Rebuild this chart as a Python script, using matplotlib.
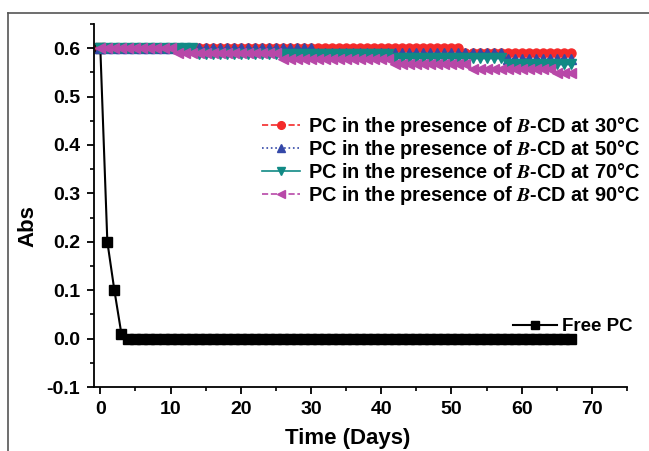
import numpy as np
import matplotlib
matplotlib.use("Agg")
import matplotlib.pyplot as plt
from matplotlib.lines import Line2D
from matplotlib.ticker import MultipleLocator

plt.rcParams['font.family'] = ['Liberation Sans', 'DejaVu Sans']
plt.rcParams['font.weight'] = 'bold'
plt.rcParams['mathtext.fontset'] = 'stix'

# ---- data ----
days = list(range(0, 68))

free_days = [0, 1, 2, 3] + list(range(4, 68))
free_abs = [0.6, 0.2, 0.1, 0.01] + [0.0] * 64

abs_30 = [0.600] * 52 + [0.590] * 16                       # days 0-51, 52-67
abs_50 = [0.600] * 31 + [0.590] * 27 + [0.578] * 10         # 0-30, 31-57, 58-67
abs_70 = [0.600] * 14 + [0.588] * 28 + [0.580] * 16 + [0.568] * 10  # 0-13, 14-41, 42-57, 58-67
abs_90 = [0.600] * 11 + [0.590] * 15 + [0.578] * 16 + [0.568] * 11 + [0.558] * 12 + [0.548] * 3

labels = ["PC in the presence of $B$-CD at 30°C",
          "PC in the presence of $B$-CD at 50°C",
          "PC in the presence of $B$-CD at 70°C",
          "PC in the presence of $B$-CD at 90°C"]
free_label = "Free PC"

x_ticks = [0, 10, 20, 30, 40, 50, 60, 70]
y_ticks = [-0.1, 0.0, 0.1, 0.2, 0.3, 0.4, 0.5, 0.6]

# ---- figure ----
fig = plt.figure(figsize=(6.49, 4.51), dpi=100)
ax = fig.add_axes([94 / 649, 1 - 387 / 451, (627 - 94) / 649, (387 - 24) / 451])

# figure frame (top and left border)
fig.add_artist(Line2D([8 / 649, 8 / 649], [0, 1 - 13 / 451], transform=fig.transFigure,
                      color='#555555', lw=1.2))
fig.add_artist(Line2D([8 / 649, 1], [1 - 13 / 451, 1 - 13 / 451], transform=fig.transFigure,
                      color='#555555', lw=1.2))

free_line, = ax.plot(free_days, free_abs, color='black', lw=1.5, marker='s', ms=6.5,
                     label=free_label, zorder=2)

styles = [
    dict(color='#f42a2a', ls='--', marker='o'),
    dict(color='#3448a8', ls=':', marker='^'),
    dict(color='#118a85', ls='-', marker='v'),
    dict(color='#b848a8', ls='--', marker='<'),
]
series = [abs_30, abs_50, abs_70, abs_90]
handles = []
for ys, st, lab in zip(series, styles, labels):
    h, = ax.plot(days, ys, color=st['color'], ls=st['ls'], lw=1.2, marker=st['marker'],
                 ms=6.5, mec=st['color'], mfc=st['color'], label=lab, zorder=3)
    handles.append(h)

ax.set_xlim(-0.9, 75)
ax.set_ylim(-0.1, 0.65)
ax.set_xticks(x_ticks)
ax.set_yticks(y_ticks)
ax.set_yticklabels([f"{v:.1f}" for v in y_ticks])
ax.xaxis.set_minor_locator(MultipleLocator(5))
ax.yaxis.set_minor_locator(MultipleLocator(0.05))
ax.tick_params(which='major', direction='out', length=5, width=1.3, labelsize=14, pad=5)
ax.tick_params(which='minor', direction='out', length=3, width=1.2)
for lbl in ax.get_xticklabels() + ax.get_yticklabels():
    lbl.set_fontweight('bold')

for s in ['top', 'right']:
    ax.spines[s].set_visible(False)
for s in ['left', 'bottom']:
    ax.spines[s].set_linewidth(1.3)

ax.set_xlabel("Time (Days)", fontsize=16, fontweight='bold')
ax.set_ylabel("Abs", fontsize=16, fontweight='bold')
ax.xaxis.set_label_coords(0.4765, -0.113)
ax.yaxis.set_label_coords(-0.105, 0.4435)

leg1 = ax.legend(handles=handles, loc='upper right', bbox_to_anchor=(1.04, 0.77),
                 frameon=False, fontsize=14.3, handlelength=1.9, handletextpad=0.45,
                 labelspacing=0.0, borderaxespad=0, markerscale=0.85)
ax.add_artist(leg1)
leg2 = ax.legend(handles=[free_line], loc='upper right', bbox_to_anchor=(1.025, 0.21),
                 frameon=False, fontsize=13.5, handlelength=2.35, handletextpad=0.3,
                 borderaxespad=0, markerscale=0.85)

fig.savefig("out.png", dpi=100)
